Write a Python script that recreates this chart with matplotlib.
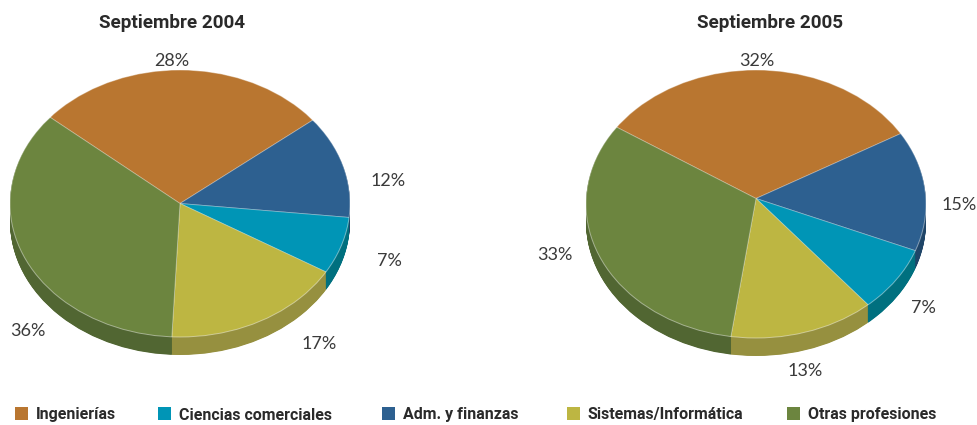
import matplotlib
matplotlib.use("Agg")
import matplotlib.pyplot as plt
from matplotlib.patches import Rectangle, Ellipse

# Data
titles = ["Septiembre 2004", "Septiembre 2005"]
categories = ["Ingenierías", "Adm. y finanzas", "Ciencias comerciales", "Sistemas/Informática", "Otras profesiones"]
# printed percentages
labels_2004 = [28, 12, 7, 17, 36]
labels_2005 = [32, 15, 7, 13, 33]
# slice shares
values_2004 = [28.1, 12.4, 6.9, 17.2, 35.4]
values_2005 = [32.6, 14.5, 7.7, 13.3, 31.9]
legend_order = ["Ingenierías", "Ciencias comerciales", "Adm. y finanzas", "Sistemas/Informática", "Otras profesiones"]

# Style
W, H = 978, 425
top_colors = ["#B97630", "#2D6090", "#0095B6", "#BDB642", "#6C853F"]
side_colors = ["#8A5A25", "#1F4568", "#00707F", "#96903F", "#516632"]
text_color = "#2A2A2A"
BOLD = "Roboto"
LIGHT = "Lato"

fig = plt.figure(figsize=(W / 100, H / 100), dpi=100)


def clipped_pie(ax, vals, colors, start, apex, cy, edge):
    wedges, _ = ax.pie(vals, colors=colors, startangle=start, counterclock=False, radius=1.4,
                       center=(0, apex + cy), wedgeprops=dict(linewidth=edge, edgecolor="#FFFFFF60"))
    clip = Ellipse((0, cy), 2, 2, transform=ax.transData)
    for w in wedges:
        w.set_clip_on(True)
        w.set_clip_box(None)
        w.set_clip_path(clip)


def draw_pie(vals, start, box, depth, apex_px):
    x0, y0, x1, y1 = box
    ax = fig.add_axes([x0 / W, 1 - y1 / H, (x1 - x0) / W, (y1 - y0) / H])
    ry = (y1 - y0) / 2
    for i in range(depth * 2, 0, -1):
        clipped_pie(ax, vals, side_colors, start, apex_px / ry, -(i / 2) / ry, 0)
    clipped_pie(ax, vals, top_colors, start, apex_px / ry, 0, 0.6)
    ax.add_patch(Ellipse((0, 0), 2, 2, facecolor="none", edgecolor="#FFFFFF70", linewidth=0.7, clip_on=False))
    ax.set_aspect("auto")
    ax.set_xlim(-1, 1)
    ax.set_ylim(-1, 1)
    ax.set_axis_off()


draw_pie(values_2004, 139.8, (10, 70, 350, 337), 18, 0)
draw_pie(values_2005, 147, (586, 70, 926, 338), 18, 5.5)

overlay = fig.add_axes([0, 0, 1, 1], facecolor="none")
overlay.set_xlim(0, W)
overlay.set_ylim(H, 0)
overlay.set_axis_off()

title_xy = [(172, 23), (770, 23)]
for t, (x, y) in zip(titles, title_xy):
    overlay.text(x, y, t, ha="center", va="center", fontsize=13.6, fontweight="bold",
                 family=BOLD, color=text_color)

pos_2004 = [(172, 61), (388, 181), (389, 261), (319, 344), (28, 331)]
pos_2005 = [(757, 61), (959, 205), (923, 308), (805, 371), (555, 255)]
for labs, poss in ((labels_2004, pos_2004), (labels_2005, pos_2005)):
    for v, (x, y) in zip(labs, poss):
        overlay.text(x, y, f"{v}%", ha="center", va="center", fontsize=13,
                     family=LIGHT, fontweight="regular", color="#3A3A3A")

legend_x = [15, 158, 382, 567, 787]
for name, x in zip(legend_order, legend_x):
    c = top_colors[categories.index(name)]
    overlay.add_patch(Rectangle((x, 407), 13, 13, facecolor=c, edgecolor="none"))
    overlay.text(x + 21, 415, name, ha="left", va="center", fontsize=11.5, fontweight="bold",
                 family=BOLD, color=text_color)

fig.savefig("out.png", dpi=100)
